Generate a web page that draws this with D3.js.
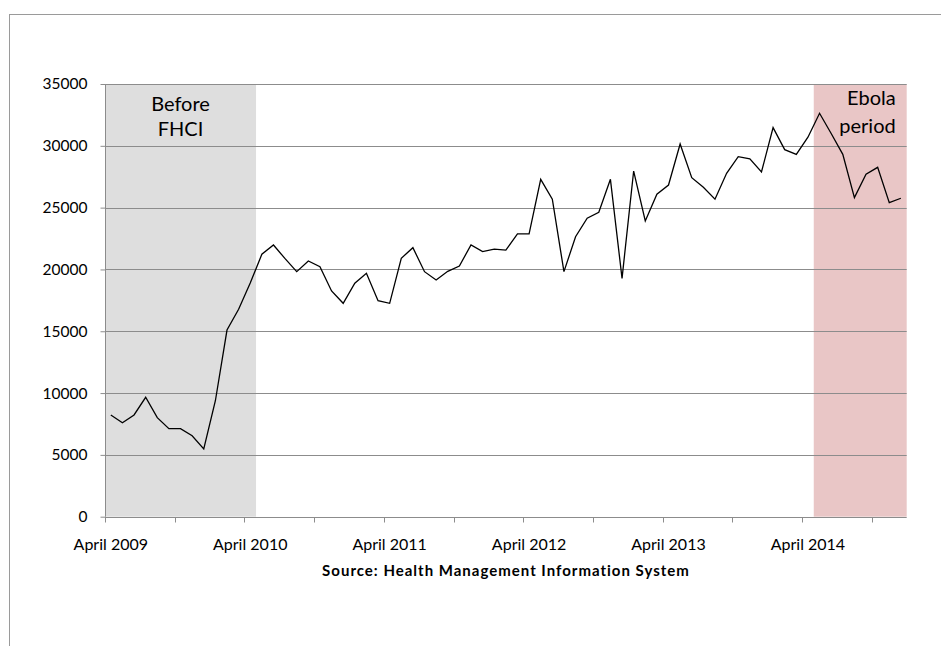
<!DOCTYPE html>
<html>
<head>
<meta charset="utf-8">
<script src="https://cdn.jsdelivr.net/npm/d3@7"></script>
<style>
  body { margin: 0; background: #fff; }
  svg { display: block; font-family: Lato, "Open Sans", sans-serif; }
  .grid line { stroke: #8c8c8c; stroke-width: 1; }
  .axis path, .axis line { stroke: #8c8c8c; }
  .axis text { fill: #000; }
</style>
</head>
<body>
<svg width="941" height="646"></svg>
<script>
// monthly series, April 2009 .. December 2014
var months = d3.timeMonth.range(new Date(2009, 3, 1), new Date(2015, 0, 1));
var values = [
  8230, 7600, 8230, 9660, 8010, 7120, 7120, 6550, 5480, 9380, 15100, 16780,
  18900, 21230, 21980, 20870, 19820, 20680, 20220, 18260, 17260, 18880, 19690, 17470,
  17260, 20900, 21760, 19820, 19150, 19850, 20280, 21980, 21440, 21650, 21570, 22870,
  22870, 27290, 25680, 19820, 22650, 24140, 24620, 27290, 19280, 27960, 23920, 26080,
  26830, 30150, 27420, 26650, 25680, 27780, 29120, 28940, 27880, 31470, 29690, 29310,
  30700, 32630, 31000, 29310, 25810, 27700, 28260, 25400, 25760
];
var yTicks = [0, 5000, 10000, 15000, 20000, 25000, 30000, 35000];
// shaded periods: [first month index, last month index]
var periods = [
  { name: ['Before', 'FHCI'], from: 0, to: 12, color: '#dedede' },
  { name: ['Ebola', 'period'], from: 61, to: 68, color: '#e9c6c6' }
];
var sourceText = 'Source: Health Management Information System';

var svg = d3.select('svg');
var fmtMonth = d3.timeFormat('%B %Y');

var margin = { left: 105, right: 34.3, top: 84, bottom: 129.3 };
var width = 941 - margin.left - margin.right,
  height = 646 - margin.top - margin.bottom;

// outer frame
svg.append('rect')
  .attr('x', 9.5).attr('y', 14.5)
  .attr('width', 940).attr('height', 640)
  .attr('fill', 'none')
  .attr('stroke', '#9a9a9a');

var g = svg.append('g').attr('transform', 'translate(' + margin.left + ',' + margin.top + ')');

var x = d3.scaleBand().domain(d3.range(values.length)).range([0, width]).padding(0);
var y = d3.scaleLinear().domain([0, 35000]).range([height, 0]);

/* shaded periods */
g.selectAll('.period')
  .data(periods)
  .enter()
  .append('rect')
  .attr('class', 'period')
  .attr('x', function(d) { return x(d.from); })
  .attr('width', function(d) { return x(d.to) + x.bandwidth() - x(d.from); })
  .attr('y', y(35000))
  .attr('height', y(0) - y(35000))
  .attr('fill', function(d) { return d.color; });

/* gridlines */
g.append('g')
  .attr('class', 'grid')
  .selectAll('line')
  .data(yTicks.slice(1))
  .enter()
  .append('line')
  .attr('x1', 0).attr('x2', width)
  .attr('y1', function(d) { return Math.round(y(d)) + 0.5; })
  .attr('y2', function(d) { return Math.round(y(d)) + 0.5; });

/* y axis */
var yAxis = g.append('g')
  .attr('class', 'axis')
  .attr('transform', 'translate(0.5,0)')
  .call(d3.axisLeft(y).tickValues(yTicks).tickSize(5).tickPadding(13).tickFormat(d3.format('d')));
yAxis.select('.domain').attr('d', 'M0,' + y(35000) + 'V' + y(0));
yAxis.selectAll('text').attr('font-size', 15.5).attr('font-family', 'Lato');

/* x axis: ticks every 6 months on band edges, labels every 12 months centered on band */
var xg = g.append('g')
  .attr('class', 'axis')
  .attr('transform', 'translate(0,' + (Math.round(y(0)) + 0.5) + ')');
xg.append('path').attr('d', 'M0,0H' + width).attr('fill', 'none');
xg.selectAll('line')
  .data(d3.range(0, values.length, 6))
  .enter()
  .append('line')
  .attr('x1', function(i) { return Math.round(x(i)) + 0.5; })
  .attr('x2', function(i) { return Math.round(x(i)) + 0.5; })
  .attr('y1', 0).attr('y2', 5);
xg.selectAll('text')
  .data(d3.range(0, values.length, 12))
  .enter()
  .append('text')
  .attr('x', function(i) { return x(i) + x.bandwidth() / 2; })
  .attr('y', 32.5)
  .attr('text-anchor', 'middle')
  .attr('font-size', 16)
  .text(function(i) { return fmtMonth(months[i]); });

/* line */
var line = d3.line()
  .x(function(d, i) { return x(i) + x.bandwidth() / 2; })
  .y(function(d) { return y(d); });

g.append('path')
  .datum(values)
  .attr('d', line)
  .attr('fill', 'none')
  .attr('stroke', '#000')
  .attr('stroke-width', 1.3)
  .attr('stroke-linejoin', 'miter');

/* period labels */
var before = periods[0], ebola = periods[1];
var beforeText = g.append('text')
  .attr('text-anchor', 'middle')
  .attr('font-size', 20);
before.name.forEach(function(s, k) {
  beforeText.append('tspan')
    .attr('x', (x(before.from) + x(before.to) + x.bandwidth()) / 2)
    .attr('y', 26.7 + k * 25)
    .text(s);
});
var ebolaText = g.append('text')
  .attr('text-anchor', 'end')
  .attr('font-size', 20);
ebola.name.forEach(function(s, k) {
  ebolaText.append('tspan')
    .attr('x', x(ebola.to) + x.bandwidth() - 11)
    .attr('y', 21 + k * 27.5)
    .text(s);
});

/* source */
svg.append('text')
  .attr('x', 506)
  .attr('y', 576)
  .attr('text-anchor', 'middle')
  .attr('font-size', 15)
  .attr('font-weight', 'bold')
  .attr('letter-spacing', 1)
  .text(sourceText);
</script>
</body>
</html>
